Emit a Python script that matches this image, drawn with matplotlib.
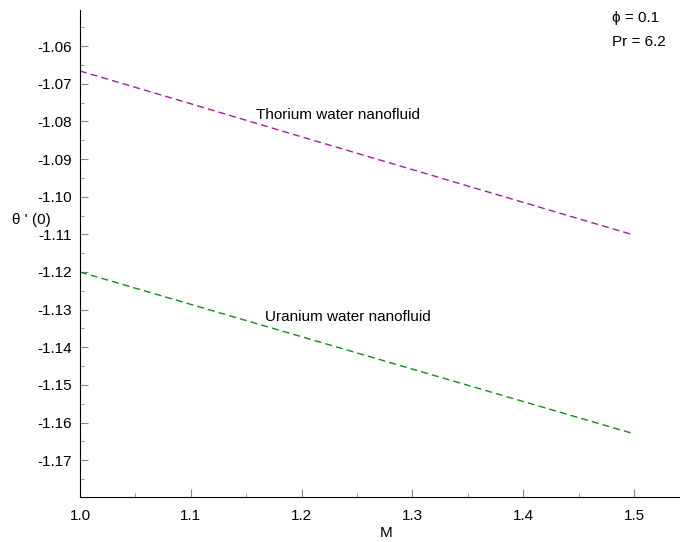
import matplotlib.pyplot as plt
from matplotlib.ticker import MultipleLocator

plt.rcParams['font.family'] = ['Liberation Sans', 'DejaVu Sans']

M = [1.0, 1.1, 1.2, 1.3, 1.4, 1.5]
thorium = [-1.0666, -1.0753, -1.0841, -1.0928, -1.1015, -1.1102]
uranium = [-1.1200, -1.1286, -1.1372, -1.1458, -1.1544, -1.1630]

fig = plt.figure(figsize=(6.8, 5.42), dpi=100)
ax = fig.add_axes([0.1176, 0.0836, 0.8824, 0.8979])

ax.plot(M, thorium, color='#a020a0', linestyle=(0, (5, 3)), linewidth=1)
ax.plot(M, uranium, color='#109010', linestyle=(0, (5, 3)), linewidth=1)

ax.text(1.159, -1.0783, 'Thorium water nanofluid', fontsize=11, va='center')
ax.text(1.167, -1.1320, 'Uranium water nanofluid', fontsize=11, va='center')

ax.set_xlim(1.0, 1.5415)
ax.set_ylim(-1.1797, -1.0504)
ax.xaxis.set_major_locator(MultipleLocator(0.1))
ax.xaxis.set_minor_locator(MultipleLocator(0.05))
ax.yaxis.set_major_locator(MultipleLocator(0.01))
ax.yaxis.set_minor_locator(MultipleLocator(0.005))
ax.xaxis.set_major_formatter(plt.FormatStrFormatter('%.1f'))
ax.yaxis.set_major_formatter(plt.FormatStrFormatter('%.2f'))

for s in ['top', 'right']:
    ax.spines[s].set_visible(False)
ax.tick_params(which='both', direction='in', color='#888888', labelsize=11)
ax.tick_params(which='major', length=6)
ax.tick_params(which='minor', length=3)
ax.tick_params(axis='y', which='major', pad=6)
ax.tick_params(axis='x', which='major', pad=9)

ax.set_xlabel('M', fontsize=11, labelpad=0)
ax.xaxis.set_label_coords(0.51, -0.06)
fig.text(12 / 680, 1 - 220 / 542, "θ ' (0)", fontsize=11, va='center', ha='left')
fig.text(612 / 680, 1 - 18 / 542, 'ϕ = 0.1', fontsize=11, va='center', ha='left')
fig.text(612 / 680, 1 - 42 / 542, 'Pr = 6.2', fontsize=11, va='center', ha='left')

fig.savefig('out.png', dpi=100)
